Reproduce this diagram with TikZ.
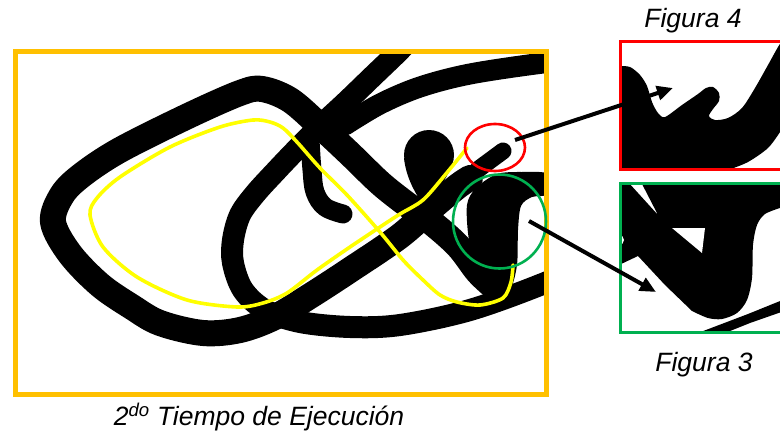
\documentclass[tikz,border=0pt]{standalone}
\usepackage{fontspec}
\setmainfont{Liberation Sans}
\usetikzlibrary{arrows.meta,shapes.geometric}
\definecolor{boxorange}{RGB}{255,192,0}
\definecolor{hlgreen}{RGB}{0,176,80}
\definecolor{hlred}{RGB}{255,0,0}
\definecolor{hlyellow}{RGB}{255,255,0}
\begin{document}
\begin{tikzpicture}[x=1pt,y=-1pt,
  ink/.style={line width=#1, line cap=round, line join=round, draw=black},
  trace/.style={line width=3.6pt, draw=hlyellow, line cap=round, line join=round},
  lens/.style={ellipse, draw=#1, line width=2.6pt, inner sep=0pt},
  panel/.style={draw=#1, line width=3pt, inner sep=0pt, anchor=north west},
  conn/.style={line width=4pt, draw=black, -{Triangle[length=16pt,width=14pt]}},
  lbl/.style={font=\fontsize{26.5}{31}\selectfont\itshape, inner sep=0pt}]
\useasboundingbox (0,0) rectangle (780,439);

% ---------- main drawing, clipped to the frame ----------
\begin{scope}
\clip (13,49) rectangle (544,392);
% ascending stroke + left loop + descending stroke
\draw[ink=26pt] plot[smooth, tension=0.55] coordinates {
 (470,178) (458,186) (435,205) (400,236) (350,270) (310,296)
 (275,317) (240,330) (203,333) (160,323) (132,307) (100,285) (70,254)
 (53,222) (62,195) (82,175) (120,150) (188,116) (240,93) (262,89)
 (290,100) (320,126) (350,154) (380,183) (405,203) (431,222) (458,246)
 (478,272) (494,287)};
% thin hook inside the red lens
\draw[ink=17pt] (458,188) -- (480,168) -- (503,151);
% middle loop + lower arc
\draw[ink=22pt] plot[smooth, tension=0.55] coordinates {
 (412,36) (400,50) (372,77) (345,103) (318,128) (296,150) (276,171)
 (255,194) (240,215) (233,240) (233,263) (243,290) (265,310) (300,322)
 (350,327) (400,325) (470,310) (545,283) (600,258)};
% upper arc
\draw[ink=21pt] plot[smooth, tension=0.55] coordinates {
 (345,125) (380,104) (420,87) (470,74) (543,63) (600,57)};
% small inner hook
\draw[ink=19pt] plot[smooth, tension=0.6] coordinates {
 (310,140) (312,170) (315,192) (325,207) (343,214)};
% head drop
\fill (429,155) circle[radius=25];
\fill (404,158) .. controls (406,178) and (416,195) .. (425,207)
  .. controls (436,192) and (450,176) .. (453,160) -- cycle;
% blob
\fill plot[smooth cycle, tension=0.5] coordinates {
 (467,205) (469,240) (479,272) (496,295) (510,290) (517,265) (518,230)
 (521,206) (532,197) (548,194) (548,174) (522,172) (497,174) (476,188)};
\end{scope}

% frame
\node[draw=boxorange, line width=5pt, inner sep=0pt, anchor=north west,
      minimum width=531pt, minimum height=343pt] (frame) at (13,49) {};

% yellow trace
\draw[trace] plot[smooth, tension=0.5] coordinates {
 (467,148) (445,175) (423,200) (400,214) (380,227) (350,247) (317,270)
 (287,293) (263,303) (237,307) (187,300) (137,277) (103,247) (90,215)
 (97,198) (120,177) (170,147) (220,127) (253,120) (270,122) (283,128)
 (297,142) (320,168) (347,195) (380,232) (403,260) (423,280) (440,295)
 (457,302) (480,305) (503,298) (511,282) (513,265)};

% highlight circles
\node[lens=hlred, minimum width=60pt, minimum height=47pt] (rc) at (495,147.5) {};
\node[lens=hlgreen, minimum width=93pt, minimum height=94pt] (gc) at (499.5,221.5) {};

% ---------- zoom panels ----------
\begin{scope}
\clip (619,40) rectangle (790,168);
\fill plot[smooth, tension=0.5] coordinates {
 (619,66) (630,67) (640,75) (647,86) (652,102) (658,113) (665,117)
 (682,105) (698,94) (706,88) (713,87) (719,93) (719,101) (713,109)
 (709,116) (715,120) (728,118) (742,108) (755,88) (768,65) (778,47) (784,38)}
 -- (790,38) -- (790,128)
 -- plot[smooth, tension=0.5] coordinates {(780,132) (768,148) (748,162) (728,170)}
 -- (619,170) -- cycle;
\end{scope}
\begin{scope}
\clip (619,182) rectangle (790,331);
\fill (619,182) -- (628,182) -- (658,215) -- (641,182) -- (790,182) -- (790,205)
 -- plot[smooth, tension=0.5] coordinates {
 (780,208) (765,214) (757,225) (753,245) (752,278) (747,300) (737,313)
 (722,319) (708,318) (692,311)}
 -- (665,285) -- (638,256) -- (619,265) -- cycle;
\fill[white] (672,228) -- (705,228) -- (702,253) -- cycle;
\fill[white] (619,240) circle[radius=5];
\fill (698,333) -- (748,314) -- (790,297) -- (790,309) -- (750,323) -- (725,333) -- cycle;
\end{scope}
\node[panel=hlred, minimum width=175pt, minimum height=128pt] (p4) at (619,40) {};
\node[panel=hlgreen, minimum width=175pt, minimum height=149pt] (p3) at (619,182) {};

% connectors
\coordinate (rs) at (515,140);
\coordinate (rt) at (673,88);
\coordinate (gs) at (529,221);
\coordinate (gt) at (656,292);
\draw[conn] (rs) -- (rt);
\draw[conn] (gs) -- (gt);

% labels
\node[lbl] (f4) at (693,21) {Figura 4};
\node[lbl] (f3) at (704,365) {Figura 3};
\node[lbl] (cap) at (259,417) {2\textsuperscript{do} Tiempo de Ejecución};
\end{tikzpicture}
\end{document}
